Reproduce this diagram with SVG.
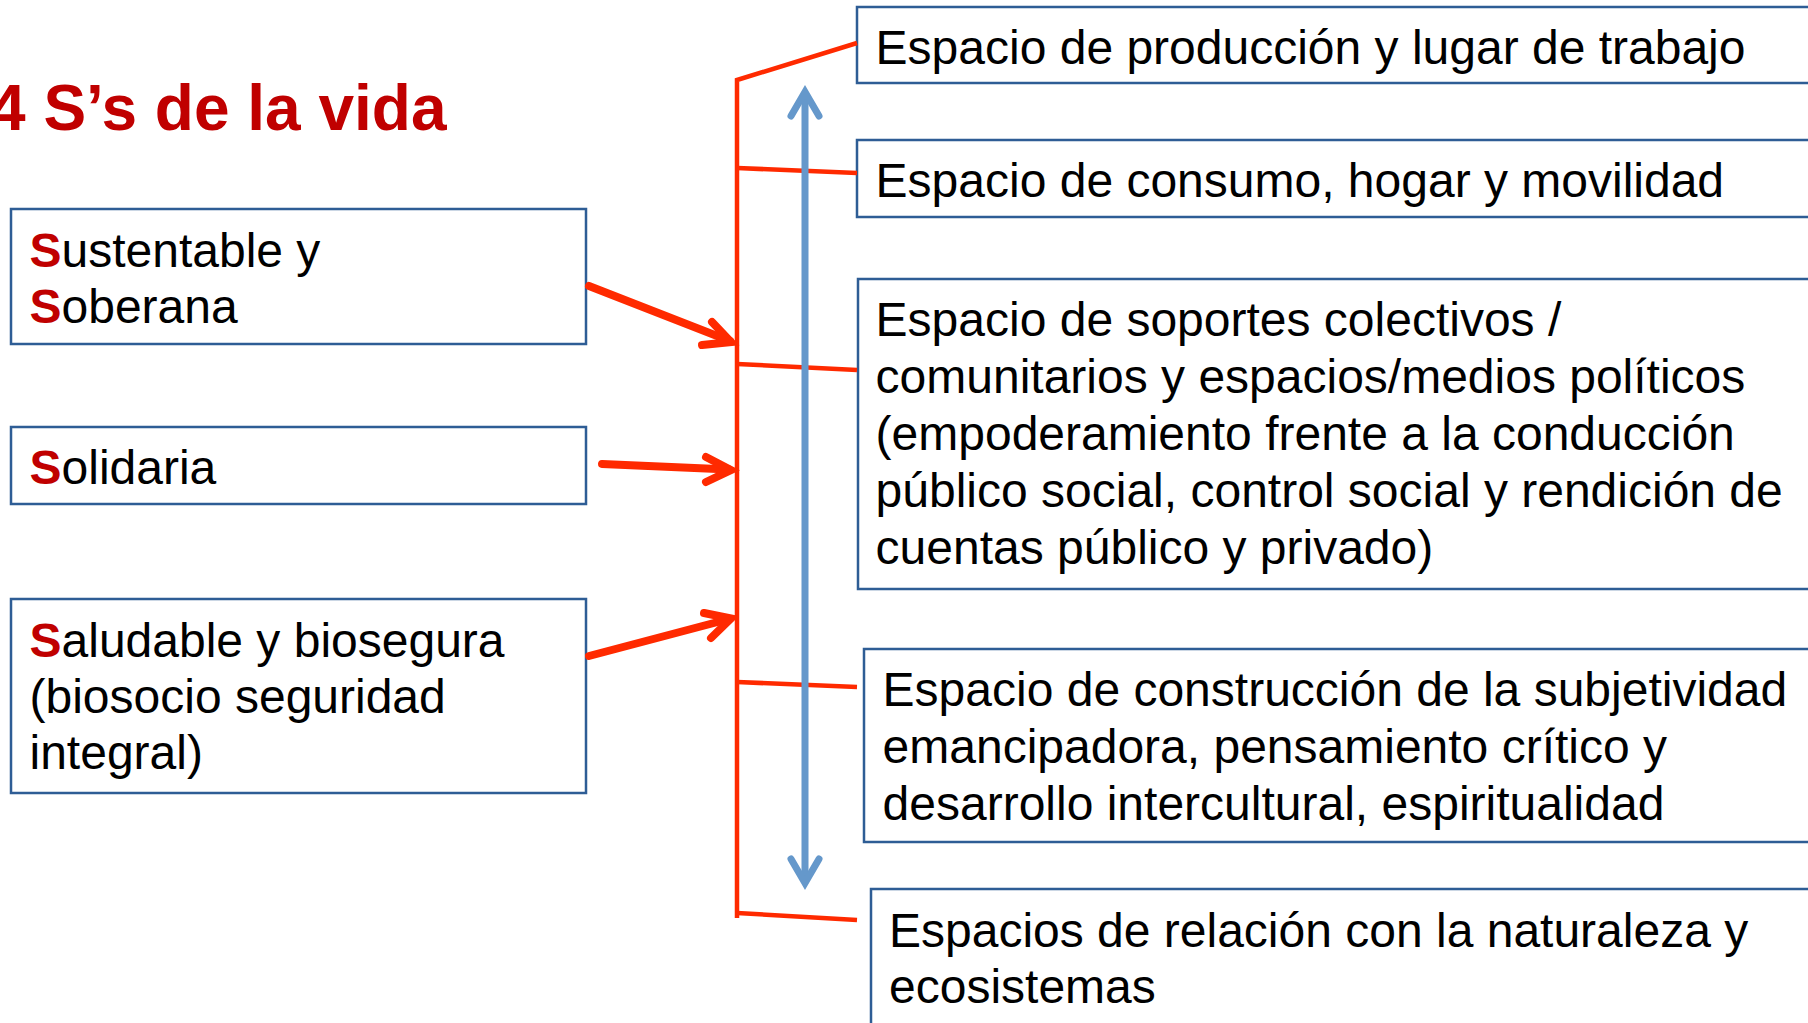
<svg xmlns="http://www.w3.org/2000/svg" width="1808" height="1023" viewBox="0 0 1808 1023">
  <style>
    .box { fill: #ffffff; stroke: #2E5D95; stroke-width: 2.5; }
    .t { font-family: "Liberation Sans", Arial, sans-serif; font-size: 48px; fill: #000000; }
    .s { font-weight: bold; fill: #C00000; }
    .title { font-family: "Liberation Sans", Arial, sans-serif; font-size: 64px; font-weight: bold; fill: #C00000; }
    .red { fill: none; stroke: #FF2A00; stroke-width: 4.5; stroke-linecap: butt; stroke-linejoin: miter; }
    .redArrow { fill: none; stroke: #FF2A00; stroke-width: 8; stroke-linecap: round; stroke-linejoin: miter; }
    .blue { fill: none; stroke: #6598CB; stroke-width: 7; stroke-linecap: round; stroke-linejoin: miter; }
  </style>
  <rect width="1808" height="1023" fill="#ffffff"/>

  <text class="title" x="-10" y="130">4 S’s de la vida</text>

  <g id="node-sustentable">
    <rect class="box" x="11" y="209" width="575" height="135"/>
    <text class="t" x="29.5" y="267"><tspan class="s">S</tspan>ustentable y</text>
    <text class="t" x="29.5" y="323"><tspan class="s">S</tspan>oberana</text>
  </g>

  <g id="node-solidaria">
    <rect class="box" x="11" y="427" width="575" height="77"/>
    <text class="t" x="29.5" y="484"><tspan class="s">S</tspan>olidaria</text>
  </g>

  <g id="node-saludable">
    <rect class="box" x="11" y="599" width="575" height="194"/>
    <text class="t" x="29.5" y="657"><tspan class="s">S</tspan>aludable y biosegura</text>
    <text class="t" x="29.5" y="713">(biosocio seguridad</text>
    <text class="t" x="29.5" y="769">integral)</text>
  </g>

  <g id="node-produccion">
    <rect class="box" x="857" y="7" width="980" height="76"/>
    <text class="t" x="875.6" y="64">Espacio de producción y lugar de trabajo</text>
  </g>

  <g id="node-consumo">
    <rect class="box" x="857" y="140" width="980" height="77"/>
    <text class="t" x="875.6" y="197">Espacio de consumo, hogar y movilidad</text>
  </g>

  <g id="node-soportes">
    <rect class="box" x="858" y="279" width="980" height="310"/>
    <text class="t" x="875.6" y="335.5">Espacio de soportes colectivos /</text>
    <text class="t" x="875.6" y="392.5">comunitarios y espacios/medios políticos</text>
    <text class="t" x="875.6" y="449.5">(empoderamiento frente a la conducción</text>
    <text class="t" x="875.6" y="506.5">público social, control social y rendición de</text>
    <text class="t" x="875.6" y="563.5">cuentas público y privado)</text>
  </g>

  <g id="node-subjetividad">
    <rect class="box" x="864" y="649" width="980" height="193"/>
    <text class="t" x="882.6" y="705.5">Espacio de construcción de la subjetividad</text>
    <text class="t" x="882.6" y="762.5">emancipadora, pensamiento crítico y</text>
    <text class="t" x="882.6" y="819.5">desarrollo intercultural, espiritualidad</text>
  </g>

  <g id="node-naturaleza">
    <rect class="box" x="871" y="889" width="980" height="200"/>
    <text class="t" x="889" y="946.5">Espacios de relación con la naturaleza y</text>
    <text class="t" x="889" y="1003">ecosistemas</text>
  </g>

  <g id="connectors">
    <!-- bracket -->
    <path class="red" d="M857,43 L737,80 L737,918"/>
    <path class="red" d="M737,913 L857,920"/>
    <path class="red" d="M737,168 L857,173"/>
    <path class="red" d="M737,364 L857,370"/>
    <path class="red" d="M737,682 L857,687"/>

    <!-- red arrows from left boxes -->
    <line class="redArrow" x1="589" y1="286" x2="730" y2="341"/>
    <path class="redArrow" d="M712,322 L731,342 L702,345"/>

    <line class="redArrow" x1="602" y1="464" x2="729" y2="469.5"/>
    <path class="redArrow" d="M706,457 L731,470 L706,482"/>

    <line class="redArrow" x1="589" y1="656" x2="729" y2="619"/>
    <path class="redArrow" d="M704,613 L731,618.5 L711,638"/>

    <!-- blue double arrow -->
    <line class="blue" x1="805" y1="95" x2="805" y2="880"/>
    <path class="blue" d="M791,116 L805,92 L819,116"/>
    <path class="blue" d="M791,859 L805,883 L819,859"/>
  </g>
</svg>
